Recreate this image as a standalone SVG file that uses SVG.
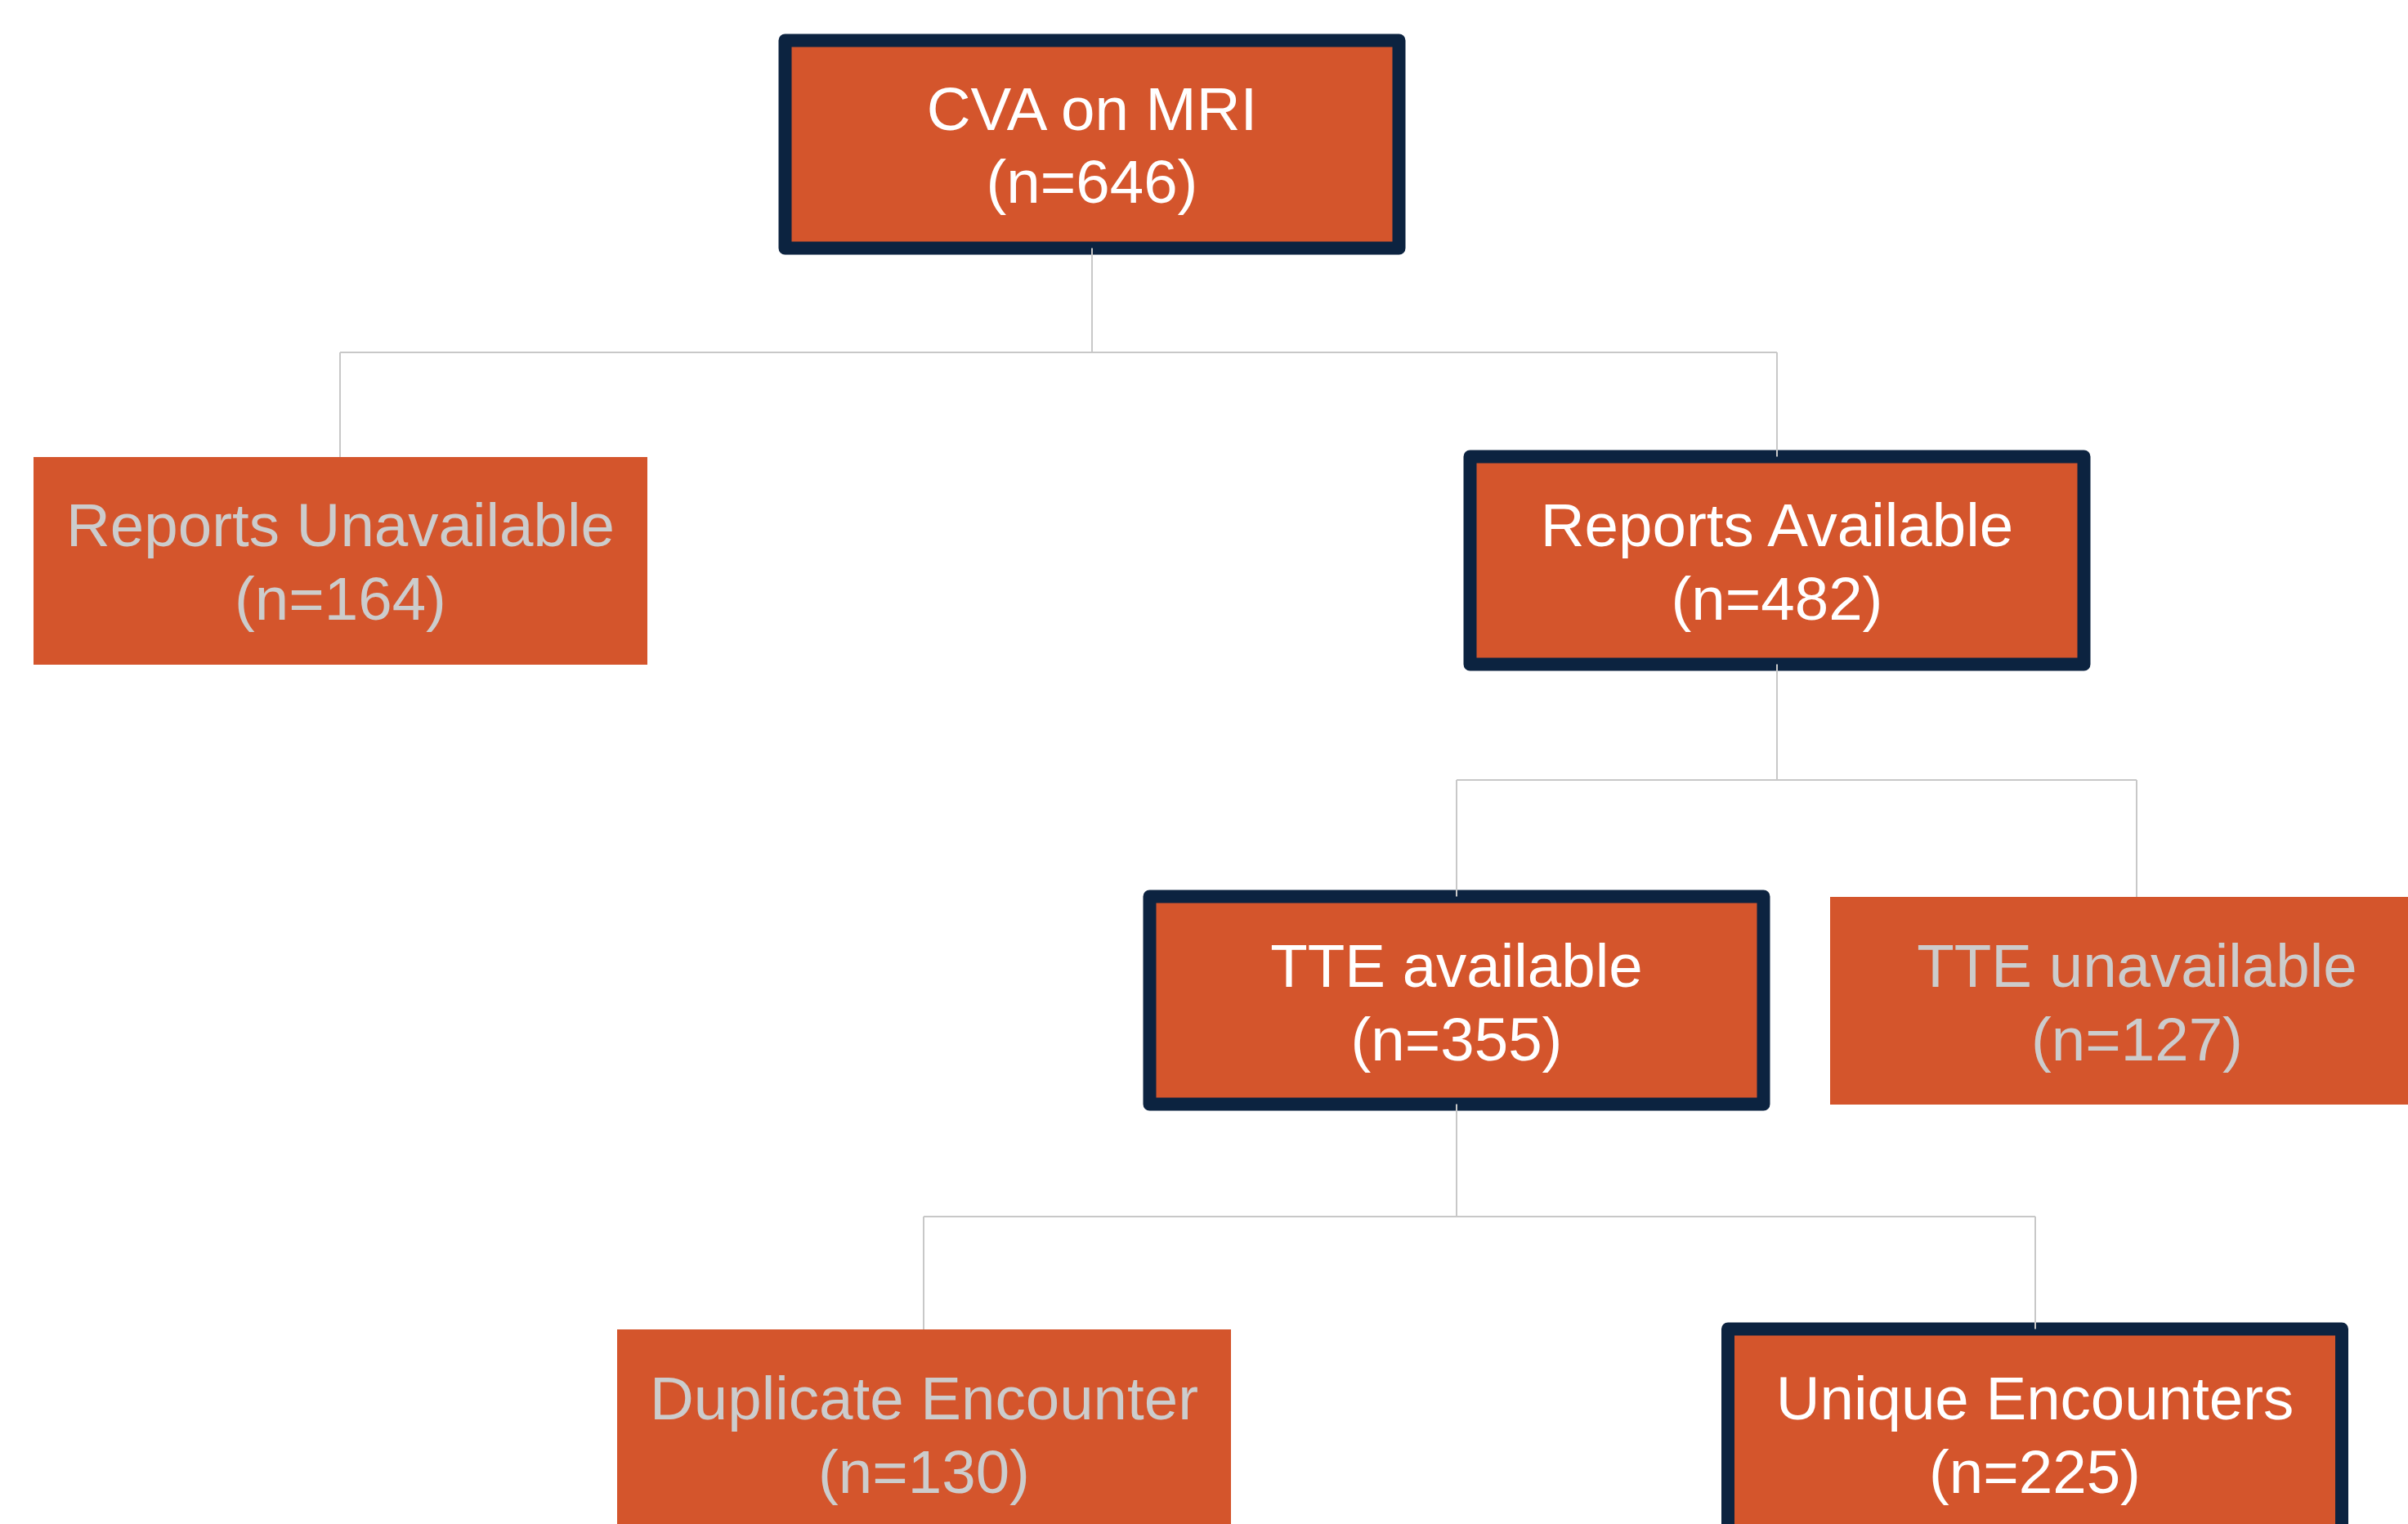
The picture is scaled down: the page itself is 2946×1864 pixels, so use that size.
<svg xmlns="http://www.w3.org/2000/svg" width="2946" height="1864" viewBox="0 0 2946 1864">
<style>
.box{fill:#d4552c}
.hl{fill:#d4552c;stroke:#0c2340;stroke-width:16;stroke-linejoin:round}
.t{font-family:"Liberation Sans",Arial,sans-serif;font-size:74.5px;text-anchor:middle}
.w{fill:#ffffff}
.g{fill:#cccccc}
.c{fill:none;stroke:#c8c8c8;stroke-width:2}
</style>
<rect width="2946" height="1864" fill="#ffffff"/>
<g id="n-cva">
<rect class="hl" x="960.5" y="49.5" width="751" height="254"/>
<text class="t w" x="1336" y="159">CVA on MRI</text>
<text class="t w" x="1336" y="248">(n=646)</text>
</g>
<g id="n-reports-unavailable">
<rect class="box" x="41" y="559" width="751" height="254"/>
<text class="t g" x="416.5" y="668">Reports Unavailable</text>
<text class="t g" x="416.5" y="758">(n=164)</text>
</g>
<g id="n-reports-available">
<rect class="hl" x="1798.5" y="558.5" width="751" height="254"/>
<text class="t w" x="2174" y="668">Reports Available</text>
<text class="t w" x="2174" y="758">(n=482)</text>
</g>
<g id="n-tte-available">
<rect class="hl" x="1406.5" y="1096.5" width="751" height="254"/>
<text class="t w" x="1782" y="1207">TTE available</text>
<text class="t w" x="1782" y="1297">(n=355)</text>
</g>
<g id="n-tte-unavailable">
<rect class="box" x="2239" y="1097" width="751" height="254"/>
<text class="t g" x="2614.5" y="1207">TTE unavailable</text>
<text class="t g" x="2614.5" y="1297">(n=127)</text>
</g>
<g id="n-duplicate">
<rect class="box" x="755" y="1626" width="751" height="254"/>
<text class="t g" x="1130.5" y="1736">Duplicate Encounter</text>
<text class="t g" x="1130.5" y="1826">(n=130)</text>
</g>
<g id="n-unique">
<rect class="hl" x="2114" y="1625.5" width="751" height="254"/>
<text class="t w" x="2489.5" y="1736">Unique Encounters</text>
<text class="t w" x="2489.5" y="1826">(n=225)</text>
</g>
<g id="connectors">
<path class="c" d="M1336 303.5V431M416 431H2174M416 431V559M2174 431V558.5"/>
<path class="c" d="M2174 812.5V954M1782 954H2614M1782 954V1096.5M2614 954V1097"/>
<path class="c" d="M1782 1350.5V1488M1130 1488H2490M1130 1488V1626M2490 1488V1625.5"/>
</g>
</svg>
